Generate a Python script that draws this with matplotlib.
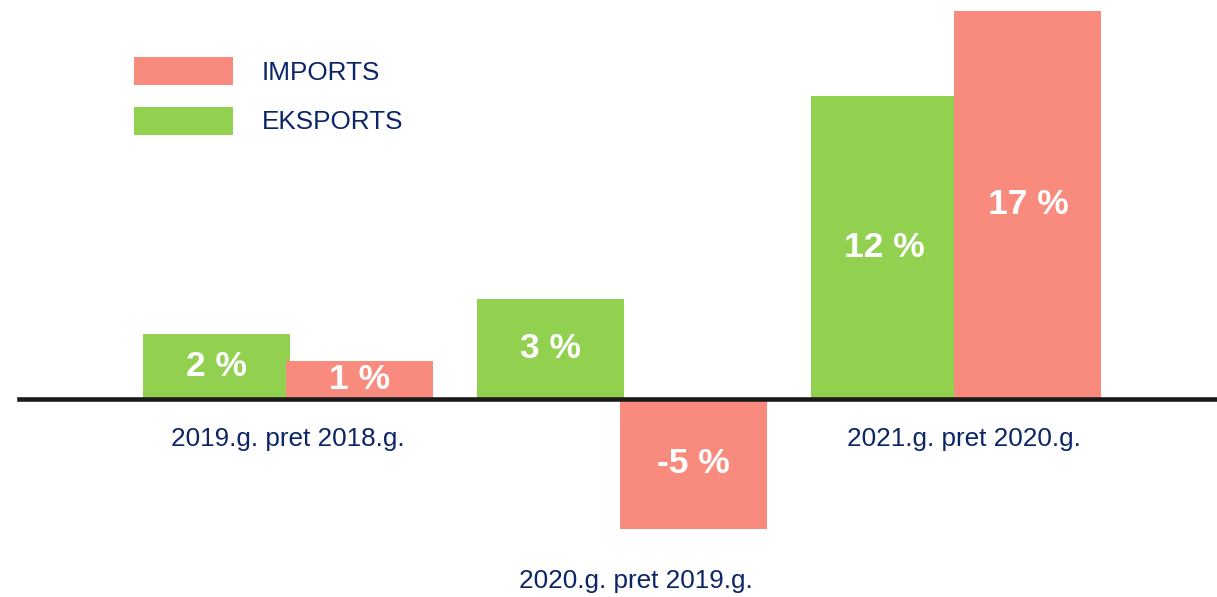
#!/usr/bin/env python3
"""Year-on-year change of exports and imports, grouped bars around a zero line."""

import matplotlib

matplotlib.use("Agg")
import matplotlib.pyplot as plt

# --- data (bar heights, labels as printed) ---
periods = ["2019.g. pret 2018.g.", "2020.g. pret 2019.g.", "2021.g. pret 2020.g."]
exports = [2.6, 4.0, 12.1]
imports = [1.5, -5.2, 15.5]
export_labels = ["2 %", "3 %", "12 %"]
import_labels = ["1 %", "-5 %", "17 %"]

GREEN = "#92D050"
RED = "#F88A7E"
NAVY = "#0B2566"

plt.rcParams["font.family"] = ["Liberation Sans", "DejaVu Sans"]

fig = plt.figure(figsize=(12.17, 5.97), dpi=100)
ax = fig.add_axes([0, 0, 1, 1])
ax.set_xlim(-0.862, 2.781)
ax.set_ylim(-7.94, 15.94)
ax.axis("off")

x = range(len(periods))
width = 0.44
offset = 0.215

exp_bars = ax.bar([i - offset for i in x], exports, width, color=GREEN,
                  label="EKSPORTS", zorder=2)
imp_bars = ax.bar([i + offset for i in x], imports, width, color=RED,
                  label="IMPORTS", zorder=2)

for bars, labels in ((exp_bars, export_labels), (imp_bars, import_labels)):
    for bar, text in zip(bars, labels):
        cx = bar.get_x() + bar.get_width() / 2
        cy = bar.get_y() + bar.get_height() / 2
        ax.text(cx, cy, text, ha="center", va="center", color="white",
                fontsize=25.5, fontweight="bold", zorder=4)

# zero line, starting a little in from the left edge
ax.axhline(0, xmin=0.0156, xmax=1, color="#1a1a1a", lw=3.3, zorder=3)

# category labels: under the axis, or under the bar when it goes negative
label_y = [-1.62, -7.3, -1.62]
label_dx = [0.0, 0.04, 0.024]
for i, (name, y, dx) in enumerate(zip(periods, label_y, label_dx)):
    ax.text(i + dx, y, name, ha="center", va="center", color=NAVY, fontsize=18.8)

ax.legend([imp_bars, exp_bars], ["IMPORTS", "EKSPORTS"],
          loc="upper left", bbox_to_anchor=(134 / 1217, 1 - 57 / 597),
          bbox_transform=fig.transFigure, frameon=False, fontsize=18.8,
          labelcolor=NAVY, handlelength=3.79, handleheight=1.28,
          handletextpad=1.11, labelspacing=0.82, borderpad=0, borderaxespad=0)

fig.savefig("out.png", dpi=100)
